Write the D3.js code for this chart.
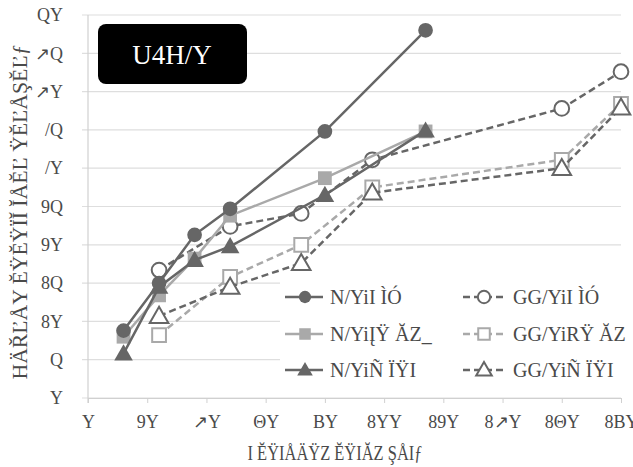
<!DOCTYPE html>
<html><head><meta charset="utf-8">
<script src="https://cdn.jsdelivr.net/npm/d3@7"></script>
<style>html,body{margin:0;padding:0;background:#fff;}svg{display:block;font-family:"Liberation Serif","DejaVu Serif",serif;}</style>
</head><body>
<svg id="c" width="633" height="467"></svg>
<script>
// ---- data ----
const solidX = [12, 24, 36, 48, 80, 114];
const dashX = [24, 48, 72, 96, 160, 180];
const s1 = [8.8, 15.0, 21.3, 24.7, 34.8, 48.0];
const s2 = [8.0, 13.4, 18.2, 23.8, 28.7, 34.8];
const s3 = [5.8, 14.5, 18.0, 19.8, 26.5, 34.9];
const s4 = [16.7, 22.4, 24.1, 31.1, 37.8, 42.6];
const s5 = [8.2, 15.8, 20.0, 27.5, 31.1, 38.4];
const s6 = [10.7, 14.5, 17.6, 26.8, 30.0, 37.9];
const seriesNames = ["N/YiI ÌÓ", "N/YiĮŸ ĂZ_", "N/YiÑ ÏŸI", "GG/YiI ÌÓ", "GG/YiRŸ ĂZ", "GG/YiÑ ÏŸI"];
const xTicks = [0, 20, 40, 60, 80, 100, 120, 140, 160, 180];
const xTickLabels = ["Y", "9Y", "↗Y", "ΘY", "BY", "8YY", "89Y", "8↗Y", "8ΘY", "8BY"];
const yTicks = [0, 5, 10, 15, 20, 25, 30, 35, 40, 45, 50];
const yTickLabels = ["Y", "Q", "8Y", "8Q", "9Y", "9Q", "/Y", "/Q", "↗Y", "↗Q", "QY"];
const xTitle = "I ĔŸIÅÄŸZ ĔŸIĂZ ŞÅIƒ";
const yTitle = "HÄŘĽÅY ĔŸĔŸÏĬ ĬÅĔĽ ŸĔĽÅŞĔĽƒ";
const boxLabel = "U4H/Y";

// ---- chart ----
const svg = d3.select("#c");
const x = d3.scaleLinear().domain([0, 180]).range([88, 621]);
const y = d3.scaleLinear().domain([0, 50]).range([398, 15]);
const dark = "#666", light = "#a9a9a9", txt = "#4a4a4a";

// grid
svg.append("g").selectAll("line").data(yTicks).join("line")
  .attr("x1", 82).attr("x2", 621).attr("y1", d => y(d)).attr("y2", d => y(d))
  .attr("stroke", "#dedede").attr("stroke-width", 1.2);
svg.append("line").attr("x1", 88).attr("x2", 88).attr("y1", y(50)).attr("y2", y(0) + 5)
  .attr("stroke", "#d0d0d0").attr("stroke-width", 1.2);

// axes
const xAxis = svg.append("g").attr("transform", `translate(0,${y(0)})`)
  .call(d3.axisBottom(x).tickValues(xTicks).tickSize(5).tickPadding(12)
    .tickFormat((d, i) => xTickLabels[i]));
xAxis.select(".domain").attr("stroke", "#d0d0d0");
xAxis.selectAll(".tick line").attr("stroke", "#d0d0d0");
xAxis.selectAll("text").attr("font-size", 18).attr("fill", txt).attr("font-family", "Liberation Serif");

const yAxis = svg.append("g").attr("transform", `translate(63,0)`)
  .call(d3.axisLeft(y).tickValues(yTicks).tickSize(0).tickPadding(0)
    .tickFormat((d, i) => yTickLabels[i]));
yAxis.select(".domain").remove();
yAxis.selectAll("text").attr("font-size", 18).attr("fill", txt).attr("font-family", "Liberation Serif");

// titles
svg.append("text").attr("x", 335).attr("y", 460).attr("text-anchor", "middle")
  .attr("font-size", 21).attr("fill", txt)
  .attr("textLength", 175).attr("lengthAdjust", "spacingAndGlyphs").text(xTitle);
svg.append("text").attr("transform", "translate(27,212) rotate(-90)").attr("text-anchor", "middle")
  .attr("font-size", 21).attr("fill", txt)
  .attr("textLength", 335).attr("lengthAdjust", "spacingAndGlyphs").text(yTitle);

// series
const series = [
  {xs: solidX, ys: s1, color: dark, dash: null, marker: "circle", fill: true},
  {xs: solidX, ys: s2, color: light, dash: null, marker: "square", fill: true},
  {xs: solidX, ys: s3, color: dark, dash: null, marker: "triangle", fill: true},
  {xs: dashX, ys: s4, color: dark, dash: "7,4", marker: "circle", fill: false},
  {xs: dashX, ys: s5, color: light, dash: "7,4", marker: "square", fill: false},
  {xs: dashX, ys: s6, color: dark, dash: "7,4", marker: "triangle", fill: false}
];
const line = d3.line().x(d => x(d[0])).y(d => y(d[1]));
const symType = {circle: d3.symbolCircle, square: d3.symbolSquare, triangle: d3.symbolTriangle};
const symSize = {circle: 170, square: 190, triangle: 150};

function drawMarker(g, s, cx, cy, scale) {
  const sz = symSize[s.marker] * scale;
  g.append("path").attr("d", d3.symbol().type(symType[s.marker]).size(sz)())
    .attr("transform", `translate(${cx},${cy + (s.marker === "triangle" ? 1.5 * scale : 0)})`)
    .attr("fill", s.fill ? s.color : "#fff")
    .attr("stroke", s.color).attr("stroke-width", s.fill ? 0 : 2);
}

// draw order: dashed first, then solid
[4, 5, 3, 1, 2, 0].forEach(i => {
  const s = series[i];
  const pts = s.xs.map((v, j) => [v, s.ys[j]]);
  svg.append("path").datum(pts).attr("d", line).attr("fill", "none")
    .attr("stroke", s.color).attr("stroke-width", 2.5)
    .attr("stroke-dasharray", s.dash);
  const g = svg.append("g");
  pts.forEach(p => drawMarker(g, s, x(p[0]), y(p[1]), 1));
});

// label box
svg.append("rect").attr("x", 98).attr("y", 24).attr("width", 149).attr("height", 60)
  .attr("rx", 8).attr("fill", "#000");
svg.append("text").attr("x", 172).attr("y", 64).attr("text-anchor", "middle")
  .attr("font-size", 27).attr("fill", "#fff").text(boxLabel);

// legend
const lg = svg.append("g");
lg.append("rect").attr("x", 280).attr("y", 280).attr("width", 353).attr("height", 100).attr("fill", "#fff");
const rowsY = [297, 334, 370];
series.forEach((s, i) => {
  const col = i < 3 ? 0 : 1;
  const ry = rowsY[i % 3];
  const x0 = col === 0 ? 285 : 463, x1 = col === 0 ? 323 : 507, mx = col === 0 ? 305 : 484;
  const tx = col === 0 ? 330 : 513;
  lg.append("line").attr("x1", x0).attr("x2", x1).attr("y1", ry).attr("y2", ry)
    .attr("stroke", s.color).attr("stroke-width", 2.5).attr("stroke-dasharray", s.dash);
  drawMarker(lg, s, mx, ry, 0.7);
  lg.append("text").attr("x", tx).attr("y", ry + 7).attr("font-size", 20).attr("fill", txt)
    .text(seriesNames[i]);
});
</script>
</body></html>
